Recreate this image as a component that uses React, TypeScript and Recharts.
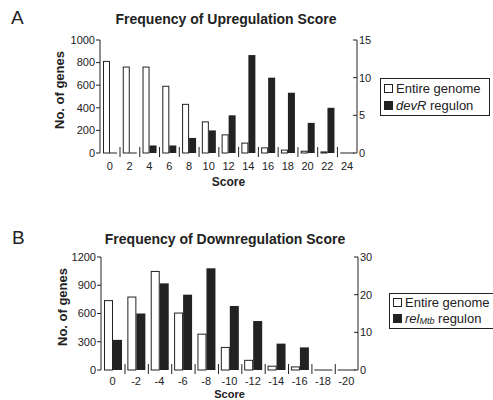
import { BarChart, Bar, XAxis, YAxis, Label } from 'recharts';

// Panel A: upregulation score
const upScores = ['0', '2', '4', '6', '8', '10', '12', '14', '16', '18', '20', '22', '24'];
const upGenome = [815, 765, 765, 595, 435, 280, 165, 92, 50, 30, 20, 14, 0];
const upDevR = [0, 0, 1, 1, 2, 3, 5, 13, 10, 8, 4, 6, 0];
const upLeftTicks = [0, 200, 400, 600, 800, 1000];
const upRightTicks = [0, 5, 10, 15];

// Panel B: downregulation score
const downScores = ['0', '-2', '-4', '-6', '-8', '-10', '-12', '-14', '-16', '-18', '-20'];
const downGenome = [742, 780, 1052, 610, 386, 245, 108, 46, 38, 0, 0];
const downRel = [8, 15, 23, 20, 27, 17, 13, 7, 6, 0, 0];
const downLeftTicks = [0, 300, 600, 900, 1200];
const downRightTicks = [0, 10, 20, 30];

const INK = '#222';
const GAP = 3;
const FONT = '"Liberation Sans", Arial, sans-serif';

const OpenBar = (props: any) => {
  const { x, y, width, height } = props;
  if (!height) return <line x1={x} x2={x + width} y1={y} y2={y} stroke={INK} />;
  return <rect x={x + 0.5} y={y + 0.5} width={width - 1} height={height - 0.5} fill="#fff" stroke={INK} strokeWidth={1} />;
};

// filled bar, also draws the small group divider tick on its right
const makeFilledBar = (count: number) => (props: any) => {
  const { x, y, width, height, index } = props;
  const base = y + height;
  const edge = x + width + GAP;
  return (
    <g>
      {height > 0
        ? <rect x={x} y={y} width={width} height={height} fill={INK} />
        : <line x1={x} x2={x + width} y1={y} y2={y} stroke={INK} />}
      {index < count - 1 && <line x1={edge} x2={edge} y1={base - 6} y2={base + 4} stroke={INK} />}
    </g>
  );
};

const LeftTick = (props: any) => {
  const { x, y, payload } = props;
  return (
    <g>
      <line x1={x - 4} x2={x} y1={y} y2={y} stroke={INK} />
      <text x={x - 5} y={y} dy="0.35em" textAnchor="end" fontSize={11} fill={INK}>{payload.value}</text>
    </g>
  );
};

const RightTick = (props: any) => {
  const { x, y, payload } = props;
  return (
    <g>
      <line x1={x - 4} x2={x} y1={y} y2={y} stroke={INK} />
      <text x={x + 2} y={y} dy="0.35em" textAnchor="start" fontSize={11} fill={INK}>{payload.value}</text>
    </g>
  );
};

const upData = upScores.map((score, i) => ({ score, genome: upGenome[i], regulon: upDevR[i] }));
const downData = downScores.map((score, i) => ({ score, genome: downGenome[i], regulon: downRel[i] }));

const text = (style: React.CSSProperties): React.CSSProperties => ({
  position: 'absolute', whiteSpace: 'nowrap', color: INK, ...style,
});

const Marker = ({ filled }: { filled: boolean }) => (
  <span style={{
    display: 'inline-block', width: 7, height: 7, marginRight: 3,
    border: `1px solid ${INK}`, background: filled ? INK : '#fff',
  }} />
);

export default function App() {
  return (
    <div style={{ position: 'absolute', left: 0, top: 0, width: 493, height: 400, overflow: 'hidden', background: '#fff', fontFamily: FONT }}>
      <div style={text({ left: 11, top: 7.5, fontSize: 19, lineHeight: '19px' })}>A</div>
      <div style={text({ left: 226, top: 12, fontSize: 14, lineHeight: '14px', fontWeight: 'bold', transform: 'translateX(-50%)' })}>
        Frequency of Upregulation Score
      </div>
      <div style={text({ left: 59, top: 90, fontSize: 13, fontWeight: 'bold', transform: 'translate(-50%,-50%) rotate(-90deg)' })}>
        No. of genes
      </div>

      <div style={{ position: 'absolute', left: 0, top: 0 }}>
        <BarChart width={493} height={200} data={upData} barCategoryGap={GAP} barGap={0}
          margin={{ top: 40, right: 106, bottom: 7, left: 0 }}>
          <XAxis dataKey="score" height={40} axisLine={false} tickLine={false} tickSize={0} tickMargin={9}
            interval={0} tick={{ fill: INK, fontSize: 11 }}>
            <Label value="Score" position="insideBottom" offset={7} fill={INK} fontSize={12} fontWeight="bold" />
          </XAxis>
          <YAxis yAxisId="left" width={100} domain={[0, 1000]} ticks={upLeftTicks} interval={0}
            axisLine={{ stroke: INK }} tickLine={false} tickSize={0} tickMargin={0} tick={<LeftTick />} />
          <YAxis yAxisId="right" orientation="right" width={30} domain={[0, 15]} ticks={upRightTicks} interval={0}
            axisLine={{ stroke: INK }} tickLine={false} tickSize={0} tickMargin={0} tick={<RightTick />} />
          <Bar yAxisId="left" dataKey="genome" shape={OpenBar} isAnimationActive={false} />
          <Bar yAxisId="right" dataKey="regulon" shape={makeFilledBar(upScores.length)} isAnimationActive={false} />
        </BarChart>
      </div>

      <div style={{ position: 'absolute', left: 380, top: 78, width: 105, height: 35, border: `1px solid ${INK}`, fontSize: 13, lineHeight: '17px', padding: '1px 0 0 3px', color: INK }}>
        <div><Marker filled={false} />Entire genome</div>
        <div><Marker filled={true} /><i>devR</i> regulon</div>
      </div>

      <div style={text({ left: 12, top: 227.5, fontSize: 19, lineHeight: '19px' })}>B</div>
      <div style={text({ left: 225, top: 231.5, fontSize: 14, lineHeight: '14px', fontWeight: 'bold', transform: 'translateX(-50%)' })}>
        Frequency of Downregulation Score
      </div>
      <div style={text({ left: 62, top: 306.5, fontSize: 13, fontWeight: 'bold', transform: 'translate(-50%,-50%) rotate(-90deg)' })}>
        No. of genes
      </div>

      <div style={{ position: 'absolute', left: 0, top: 200 }}>
        <BarChart width={493} height={210} data={downData} barCategoryGap={GAP} barGap={0}
          margin={{ top: 57, right: 105, bottom: 0, left: 0 }}>
          <XAxis dataKey="score" height={40} axisLine={false} tickLine={false} tickSize={0} tickMargin={7}
            interval={0} tick={{ fill: INK, fontSize: 11 }}>
            <Label value="Score" position="insideBottom" offset={12.5} fill={INK} fontSize={11} fontWeight="bold" />
          </XAxis>
          <YAxis yAxisId="left" width={101} domain={[0, 1200]} ticks={downLeftTicks} interval={0}
            axisLine={{ stroke: INK }} tickLine={false} tickSize={0} tickMargin={0} tick={<LeftTick />} />
          <YAxis yAxisId="right" orientation="right" width={30} domain={[0, 30]} ticks={downRightTicks} interval={0}
            axisLine={{ stroke: INK }} tickLine={false} tickSize={0} tickMargin={0} tick={<RightTick />} />
          <Bar yAxisId="left" dataKey="genome" shape={OpenBar} isAnimationActive={false} />
          <Bar yAxisId="right" dataKey="regulon" shape={makeFilledBar(downScores.length)} isAnimationActive={false} />
        </BarChart>
      </div>

      <div style={{ position: 'absolute', left: 389, top: 293, width: 120, height: 33, border: `1px solid ${INK}`, fontSize: 13, lineHeight: '16px', padding: '1px 0 0 3px', color: INK }}>
        <div><Marker filled={false} />Entire genome</div>
        <div><Marker filled={true} /><i>rel</i><i style={{ fontSize: 9, position: 'relative', top: 1 }}>Mtb</i> regulon</div>
      </div>
    </div>
  );
}
